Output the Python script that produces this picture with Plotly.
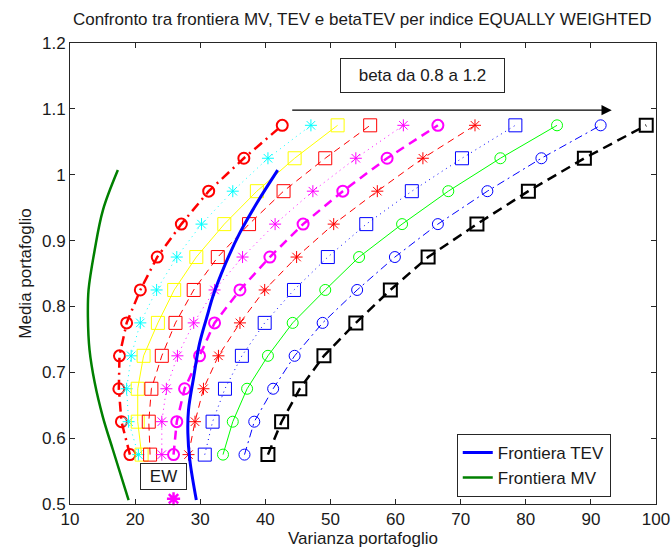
import plotly.graph_objects as go

# Portfolio mean levels shared by every beta-constrained TEV frontier
means = [0.575, 0.625, 0.675, 0.725, 0.775, 0.825, 0.875, 0.925, 0.975, 1.025, 1.075]

# Portfolio variance along each beta-TEV frontier, beta from 0.8 to 1.2
var_b080 = [19.2, 17.9, 17.5, 17.6, 18.7, 20.8, 23.4, 27.1, 31.3, 36.7, 42.6]
var_b084 = [20.5, 19.0, 18.7, 19.4, 20.8, 23.3, 26.4, 30.2, 35.0, 40.4, 47.0]
var_b088 = [21.0, 20.4, 20.4, 21.3, 23.5, 26.0, 29.4, 33.7, 38.7, 44.5, 51.1]
var_b092 = [22.3, 22.1, 22.5, 24.1, 26.2, 29.0, 32.7, 37.5, 42.8, 49.2, 56.1]
var_b096 = [24.1, 24.1, 24.8, 26.5, 29.0, 32.2, 36.5, 41.5, 47.3, 53.9, 61.2]
var_b100 = [25.9, 26.4, 27.6, 29.9, 32.2, 36.1, 40.7, 45.8, 51.9, 58.7, 66.5]
var_b104 = [28.2, 29.2, 30.5, 32.8, 36.1, 39.9, 44.8, 50.5, 57.2, 64.2, 72.2]
var_b108 = [30.7, 31.9, 33.8, 36.4, 39.9, 44.4, 49.6, 55.5, 62.5, 70.2, 78.4]
var_b112 = [33.5, 35.0, 37.2, 40.4, 44.2, 49.2, 54.4, 61.0, 68.1, 76.1, 84.8]
var_b116 = [36.8, 38.3, 41.2, 44.5, 48.8, 54.1, 59.9, 66.5, 74.1, 82.4, 91.5]
var_b120 = [40.4, 42.5, 45.3, 49.0, 53.9, 59.2, 65.0, 72.5, 80.4, 89.0, 98.5]

# Unconstrained TEV frontier
tev_var = [41.9, 38.7, 36.1, 33.8, 31.9, 31.2, 29.9, 29.0, 28.2, 28.1, 28.4, 29.4]
tev_mean = [1.007, 0.957, 0.912, 0.863, 0.814, 0.790, 0.744, 0.693, 0.643, 0.608, 0.567, 0.506]

# Mean-variance frontier
mv_var = [17.35, 15.05, 13.8, 12.85, 12.75, 13.0, 13.8, 15.05, 16.6, 19.0]
mv_mean = [1.007, 0.946, 0.886, 0.825, 0.784, 0.734, 0.684, 0.632, 0.582, 0.506]

# Equally weighted index
ew_var = [25.9]
ew_mean = [0.508]

x_ticks = [10, 20, 30, 40, 50, 60, 70, 80, 90, 100]
y_ticks = [0.5, 0.6, 0.7, 0.8, 0.9, 1.0, 1.1, 1.2]
y_ticktext = ["0.5", "0.6", "0.7", "0.8", "0.9", "1", "1.1", "1.2"]

# (values, colour, line dash, line width, marker symbol, marker size)
beta_styles = [
    (var_b080, "#FF0000", "10px,5px,2px,5px", 2.5, "circle-open", 11),
    (var_b084, "#00FFFF", "1px,4px", 1, "asterisk-open", 10),
    (var_b088, "#FFFF00", "solid", 1, "square-open", 13),
    (var_b092, "#FF0000", "7px,5px", 1, "square-open", 13),
    (var_b096, "#FF00FF", "1px,4px", 1, "asterisk-open", 10),
    (var_b100, "#FF00FF", "9px,6px", 2.5, "circle-open", 11),
    (var_b104, "#FF0000", "7px,5px", 1, "asterisk-open", 10),
    (var_b108, "#0000FF", "1px,4px", 1, "square-open", 13),
    (var_b112, "#00FF00", "solid", 1, "circle-open", 11),
    (var_b116, "#0000FF", "8px,4px,2px,4px", 1, "circle-open", 11),
    (var_b120, "#000000", "10px,6px", 2.5, "square-open", 13),
]

fig = go.Figure()

for vals, color, dash, lw, sym, size in beta_styles:
    fig.add_trace(go.Scatter(
        x=vals, y=means, mode="lines+markers", showlegend=False,
        line=dict(color=color, width=lw, dash=dash),
        marker=dict(symbol=sym, size=size, color=color,
                    line=dict(color=color, width=2 if lw > 2 else 1)),
    ))

fig.add_trace(go.Scatter(
    x=tev_var, y=tev_mean, mode="lines", name="Frontiera TEV",
    line=dict(color="#0000FF", width=3, shape="spline"),
))
fig.add_trace(go.Scatter(
    x=mv_var, y=mv_mean, mode="lines", name="Frontiera MV",
    line=dict(color="#008000", width=2.5, shape="spline"),
))
fig.add_trace(go.Scatter(
    x=ew_var, y=ew_mean, mode="markers", showlegend=False,
    marker=dict(symbol="asterisk-open", size=11, color="#FF00FF",
                line=dict(color="#FF00FF", width=2.5)),
    cliponaxis=False,
))

font_family = "Liberation Sans, Arial, sans-serif"
txt = "#1a1a1a"
axis_common = dict(
    showline=True, linecolor="#262626", linewidth=1, mirror="ticks",
    ticks="inside", ticklen=5, tickcolor="#262626", showgrid=False,
    zeroline=False, automargin=False,
    tickfont=dict(size=17, color=txt, family=font_family),
)

fig.update_layout(
    width=672, height=550,
    margin=dict(l=70, r=16, t=43, b=46),
    paper_bgcolor="white", plot_bgcolor="white",
    font=dict(family=font_family, color=txt),
    title=dict(
        text="Confronto tra frontiera MV, TEV e betaTEV per indice EQUALLY WEIGHTED",
        x=0.539, xanchor="center", y=1 - 19 / 550, yanchor="middle",
        font=dict(size=17, color=txt),
    ),
    xaxis=dict(range=[10, 100], tickvals=x_ticks,
               title=dict(text="Varianza portafoglio", font=dict(size=17), standoff=2),
               **axis_common),
    yaxis=dict(range=[0.5, 1.2], tickvals=y_ticks, ticktext=y_ticktext,
               title=dict(text="Media portafoglio", font=dict(size=17), standoff=6),
               **axis_common),
    legend=dict(
        x=0.66, y=0.152, xanchor="left", yanchor="top",
        bordercolor="#262626", borderwidth=1, bgcolor="white",
        font=dict(size=17, color=txt), tracegroupgap=0,
    ),
    annotations=[
        dict(x=64.15, y=1.151, xref="x", yref="y", text="beta da 0.8 a 1.2",
             showarrow=False, width=161, height=31, bordercolor="#262626",
             borderwidth=1, font=dict(size=17, color=txt)),
        dict(x=93.2, y=1.098, xref="x", yref="y", ax=43.9, ay=1.098,
             axref="x", ayref="y", text="", showarrow=True, arrowhead=2,
             arrowsize=1.7, arrowwidth=1.2, arrowcolor="#000000"),
        dict(x=24.3, y=0.542, xref="x", yref="y", text="EW",
             showarrow=False, width=43, height=23, bordercolor="#262626",
             borderwidth=1, bgcolor="white", font=dict(size=17, color=txt)),
    ],
)

fig.write_html("out.html")
